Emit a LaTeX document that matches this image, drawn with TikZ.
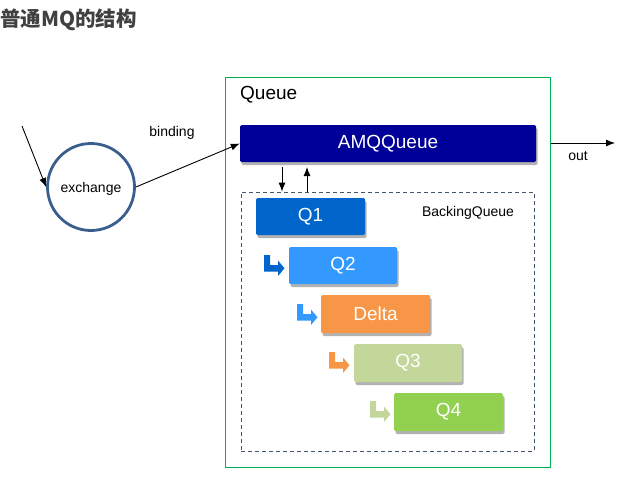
\documentclass[tikz,border=0pt]{standalone}
\usepackage{fontspec}
\setmainfont{Liberation Sans}
\newfontfamily\cjk{Noto Sans CJK SC}
\usepackage{tikz}
\usetikzlibrary{arrows.meta,shadows}
\definecolor{amqblue}{HTML}{000099}
\definecolor{qone}{HTML}{0066CC}
\definecolor{qtwo}{HTML}{3399FF}
\definecolor{deltaorange}{HTML}{F79646}
\definecolor{qthree}{HTML}{C4D79B}
\definecolor{qfour}{HTML}{92D050}
\definecolor{queuegreen}{HTML}{00B050}
\definecolor{backgrey}{HTML}{44546A}
\definecolor{exchblue}{HTML}{3A5F8E}
\definecolor{titlegrey}{HTML}{404040}
\tikzstyle{every node}=[inner sep=0pt]
\tikzstyle{qbox}=[rectangle,rounded corners=1.5pt,text=white,font=\fontsize{19}{22}\selectfont,minimum width=109pt,minimum height=37pt,drop shadow={shadow xshift=1.5pt,shadow yshift=-3pt,fill=black,opacity=0.3}]
\tikzstyle{lbl}=[font=\fontsize{14}{16}\selectfont]
\tikzstyle{conn}=[-{Latex[length=9pt,width=7pt]},line width=0.9pt]
\newcommand{\turnarrow}[3]{\fill[#3,shift={(#1,#2)}] (0,0)--(6,0)--(6,10)--(14,10)--(14,5.5)--(20.5,13.3)--(14,21)--(14,16.7)--(0,16.7)--cycle;}

\begin{document}
\begin{tikzpicture}[x=1pt,y=-1pt]
\useasboundingbox (0,0) rectangle (639,493);
\node[anchor=west,text=titlegrey,font=\cjk\bfseries\fontsize{20.5}{24}\selectfont] (title) at (0,20) {普通MQ的结构};
\node[draw=queuegreen,line width=1pt,minimum width=325pt,minimum height=390pt] (queue) at (387.5,272) {};
\node[draw=backgrey,dash pattern=on 4pt off 3pt,line width=0.8pt,minimum width=293pt,minimum height=259pt] (backing) at (387.5,321.5) {};
\node[anchor=west,font=\fontsize{19}{22}\selectfont] (queuelbl) at (240,95) {Queue};
\node[lbl] (backinglbl) at (468,213) {BackingQueue};
\node[qbox,fill=amqblue,minimum width=296pt] (amq) at (388,143.5) {AMQQueue};
\node[qbox,fill=qone] (q1) at (310.5,216.5) {Q1};
\node[qbox,fill=qtwo,minimum width=108pt] (q2) at (343,265.5) {Q2};
\node[qbox,fill=deltaorange,minimum height=38pt] (delta) at (375.5,314) {Delta};
\node[qbox,fill=qthree,minimum width=108pt,minimum height=38pt] (q3) at (408,363) {Q3};
\node[qbox,fill=qfour,minimum height=38pt] (q4) at (448.5,412) {Q4};
\turnarrow{264}{255}{qone}
\turnarrow{297}{304}{qtwo}
\turnarrow{329}{352}{deltaorange}
\turnarrow{370}{401}{qthree}
\node[circle,draw=exchblue,line width=2.8pt,minimum size=87pt] (exch) at (91,187) {};
\node[lbl] (exchlbl) at (91,189) {exchange};
\node[lbl] (bindinglbl) at (172,133) {binding};
\node[lbl] (outlbl) at (578,156) {out};
\coordinate (src) at (22,126);
\coordinate (sink) at (615,143);
\coordinate (down) at (282,167);
\coordinate (up) at (307,192);
\draw[conn] (src)--(exch.west);
\draw[conn] (exch.east)--(amq.west);
\draw[conn] (queue.east |- sink)--(sink);
\draw[conn] (down)--(down |- backing.north);
\draw[conn] (up)--(up |- down);
\end{tikzpicture}
\end{document}
